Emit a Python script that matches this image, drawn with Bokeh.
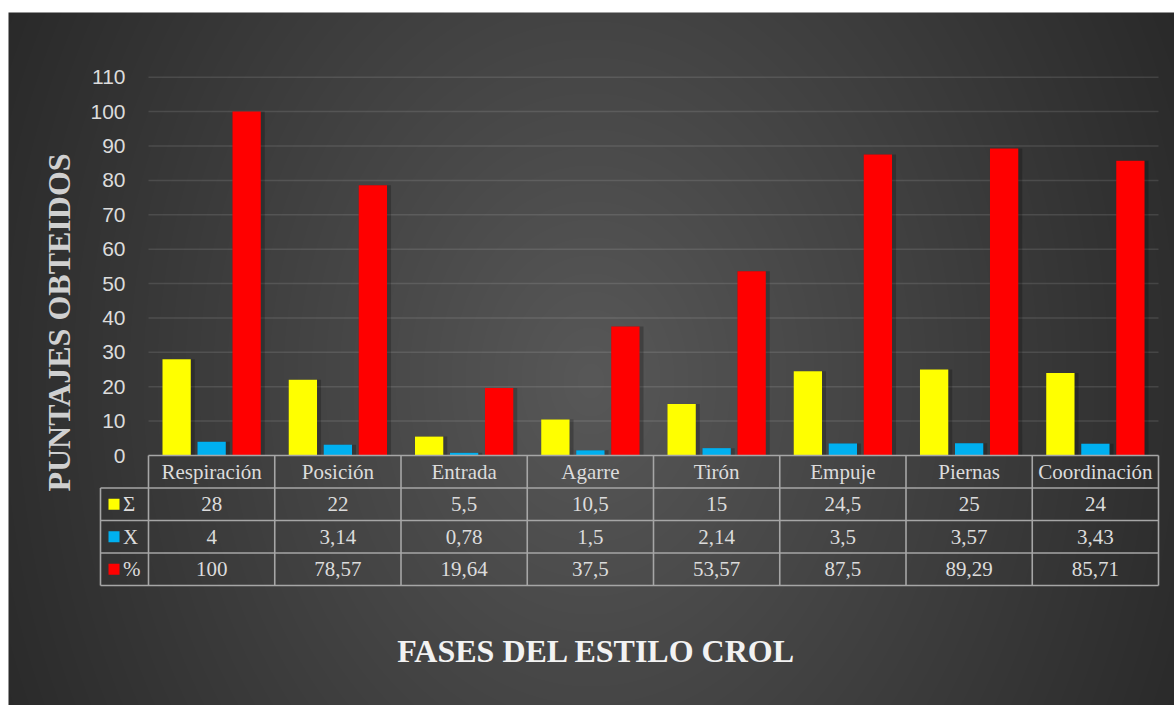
import numpy as np
from bokeh.plotting import figure
from bokeh.models import Range1d, Label
from bokeh.core.properties import value
from bokeh.embed import file_html
from bokeh.resources import INLINE

# ---- data -------------------------------------------------------------
categories = ["Respiración", "Posición", "Entrada", "Agarre", "Tirón",
              "Empuje", "Piernas", "Coordinación"]
suma = [28, 22, 5.5, 10.5, 15, 24.5, 25, 24]
media = [4, 3.14, 0.78, 1.5, 2.14, 3.5, 3.57, 3.43]
porcentaje = [100, 78.57, 19.64, 37.5, 53.57, 87.5, 89.29, 85.71]
series_names = ["Σ", "X", "%"]
series_values = [suma, media, porcentaje]
series_colors = ["#FFFF00", "#00B0F0", "#FF0000"]
y_ticks = [0, 10, 20, 30, 40, 50, 60, 70, 80, 90, 100, 110]

# ---- page geometry (pixels) --------------------------------------------
W, H = 1174, 705
BG_LEFT, BG_TOP = 8, 12          # white margin around the dark panel
PLOT_LEFT = 148                  # left edge of the first category
CAT_W = 126.25                   # width of one category column
ZERO_PY = 455                    # pixel row of value 0
PX_PER_UNIT = 3.439              # vertical pixels per value unit
TABLE_LEFT = 100                 # left edge of the legend column
ROW_H = 32.5                     # height of one table row
BAR_W_PX = 28.3
BAR_STEP_PX = 35

SERIF = "Liberation Serif"
SANS = "Liberation Sans"
TEXT_GRAY = "#dcdcdc"
TABLE_FONT_SIZE = "21px"


def dx(px):
    return (px - PLOT_LEFT) / CAT_W


def dy(py):
    return (ZERO_PY - py) / PX_PER_UNIT


p = figure(width=W, height=H,
           x_range=Range1d(dx(0), dx(W)), y_range=Range1d(dy(H), dy(0)),
           output_backend="svg", toolbar_location=None, tools="",
           min_border=0, x_axis_location=None, y_axis_location=None,
           background_fill_color="white", border_fill_color="white",
           outline_line_color=None)
p.grid.visible = False

# ---- radial gradient panel ----------------------------------------------
gw, gh = W - BG_LEFT, H - BG_TOP
rows, cols = np.mgrid[0:gh, 0:gw]
py_top = gh - 1 - rows                      # image row 0 is drawn at the bottom
cx, cy = 590 - BG_LEFT, 380 - BG_TOP
r = np.sqrt(((cols - cx) / 700.0) ** 2 + ((py_top - cy) / 900.0) ** 2)
r = np.clip(r, 0, 1)
lvl = (88 - 50 * r).astype(np.uint32)
img = (lvl | (lvl << 8) | (lvl << 16) | (np.uint32(255) << 24)).astype(np.uint32)
p.image_rgba(image=[img], x=dx(BG_LEFT), y=dy(H),
             dw=dx(W) - dx(BG_LEFT), dh=dy(BG_TOP) - dy(H))

# ---- grid lines and value ticks -------------------------------------------
grid_vals = [t for t in y_ticks if t > 0]
n = len(categories)
p.segment(x0=0, x1=n, y0=grid_vals, y1=grid_vals,
          line_color="white", line_alpha=0.11, line_width=1.5)
p.text(x=[0] * len(y_ticks), y=y_ticks, text=[str(t) for t in y_ticks],
       x_offset=-23, text_align="right", text_baseline="middle",
       text_font=value(SANS), text_font_size="21px", text_color=TEXT_GRAY)

# ---- bars -------------------------------------------------------------------
centers = np.arange(n) + 0.5
bar_w = BAR_W_PX / CAT_W
for k, (vals, color) in enumerate(zip(series_values, series_colors)):
    xs = centers + (k - 1) * BAR_STEP_PX / CAT_W
    p.vbar(x=xs + 2 / CAT_W, width=bar_w + 4 / CAT_W, top=vals, bottom=0,
           fill_color="black", fill_alpha=0.22, line_color=None)
    p.vbar(x=xs, width=bar_w, top=vals, bottom=0,
           fill_color=color, line_color=None)

# ---- data table -------------------------------------------------------------
line_color = "#a6a6a6"
row_edges = [dy(ZERO_PY + i * ROW_H) for i in range(5)]
p.segment(x0=[0] + [dx(TABLE_LEFT)] * 4, x1=[n] * 5,
          y0=row_edges, y1=row_edges, line_color=line_color, line_width=1.6)
col_edges = list(range(n + 1))
p.segment(x0=col_edges, x1=col_edges, y0=[row_edges[0]] * (n + 1),
          y1=[row_edges[-1]] * (n + 1), line_color=line_color, line_width=1.6)
p.segment(x0=[dx(TABLE_LEFT)], x1=[dx(TABLE_LEFT)], y0=[row_edges[1]],
          y1=[row_edges[-1]], line_color=line_color, line_width=1.6)

row_mid = [dy(ZERO_PY + (i + 0.5) * ROW_H) for i in range(4)]
p.text(x=centers, y=[row_mid[0]] * n, text=categories,
       text_align="center", text_baseline="middle",
       text_font=value(SERIF), text_font_size=TABLE_FONT_SIZE,
       text_color=TEXT_GRAY)


def fmt(v):
    return f"{v:g}".replace(".", ",")


for k, vals in enumerate(series_values):
    p.text(x=centers, y=[row_mid[k + 1]] * n, text=[fmt(v) for v in vals],
           text_align="center", text_baseline="middle",
           text_font=value(SERIF), text_font_size=TABLE_FONT_SIZE,
           text_color=TEXT_GRAY)

# legend keys inside the table
p.scatter(x=[dx(113.5)] * 3, y=row_mid[1:], marker="square", size=11,
          fill_color=series_colors, line_color=None)
p.text(x=[dx(122.5)] * 3, y=row_mid[1:], text=series_names,
       text_align="left", text_baseline="middle",
       text_font=value(SERIF), text_font_size=TABLE_FONT_SIZE,
       text_color=TEXT_GRAY)

# ---- axis titles -----------------------------------------------------------
p.add_layout(Label(x=58, y=H - 322, x_units="screen", y_units="screen",
                   text="PUNTAJES OBTEIDOS", angle=np.pi / 2,
                   text_align="center", text_baseline="middle",
                   text_font=SERIF, text_font_style="bold",
                   text_font_size="32px", text_color="#d0d0d0"))
p.add_layout(Label(x=596, y=H - 650, x_units="screen", y_units="screen",
                   text="FASES DEL ESTILO CROL",
                   text_align="center", text_baseline="middle",
                   text_font=SERIF, text_font_style="bold",
                   text_font_size="32px", text_color="#f2f2f2"))

open("out.html", "w").write(file_html(p, INLINE))
